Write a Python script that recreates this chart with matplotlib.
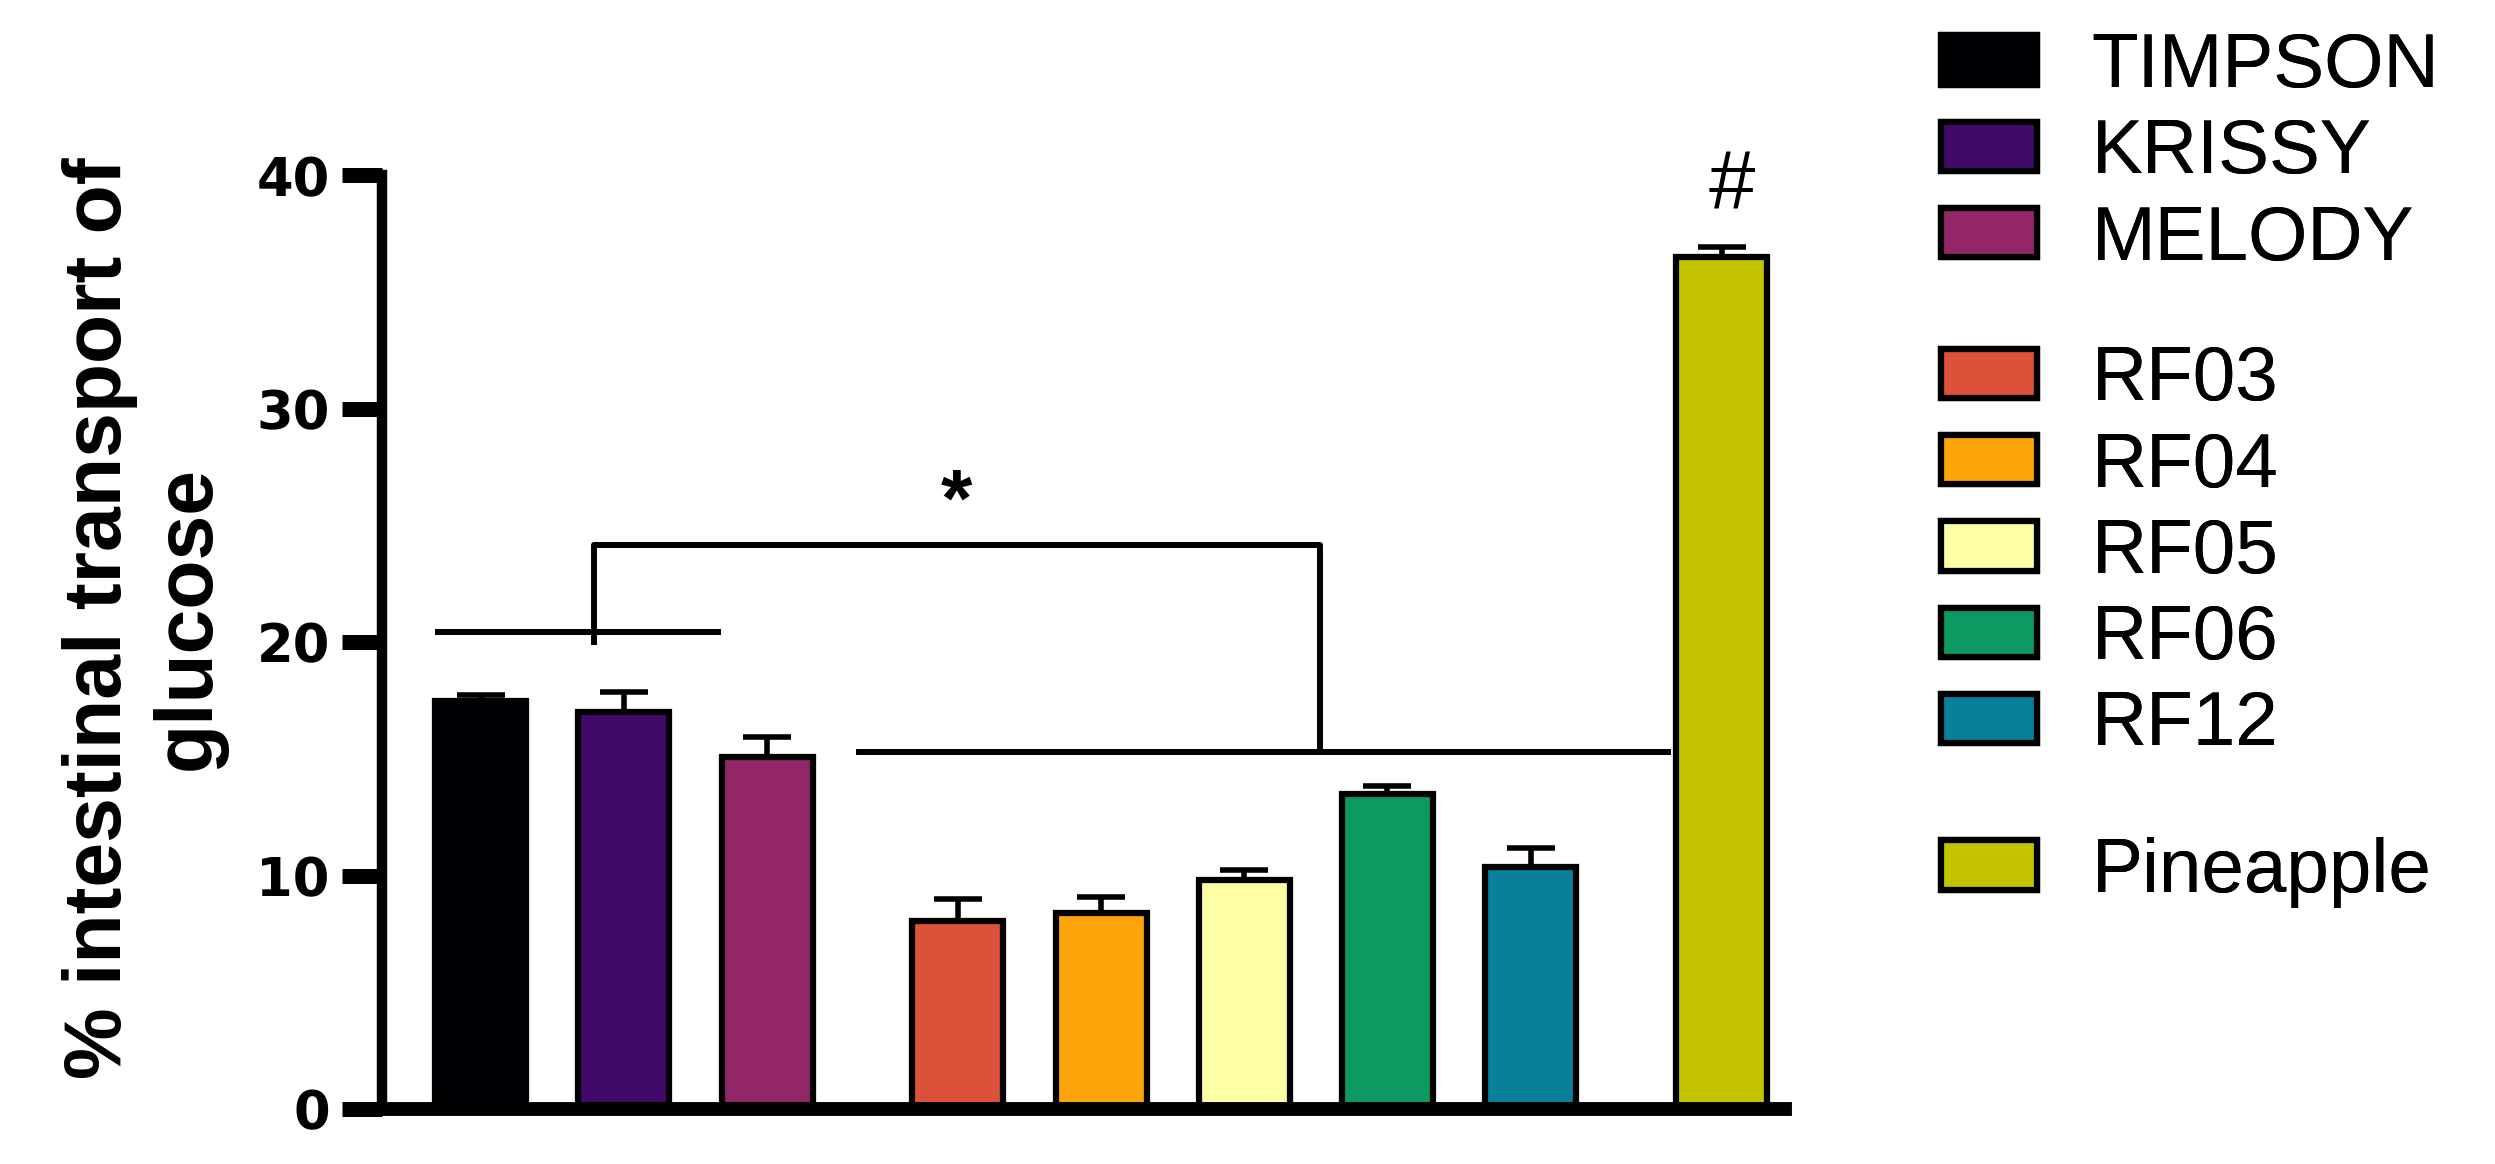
import matplotlib
matplotlib.use('Agg')
import matplotlib.pyplot as plt
from matplotlib.patches import Patch
import numpy as np

plt.rcParams['font.family'] = ['Liberation Sans', 'DejaVu Sans']

# data
groups = ['TIMPSON', 'KRISSY', 'MELODY',
          'RF03', 'RF04', 'RF05', 'RF06', 'RF12',
          'Pineapple']
means = [17.5, 17.0, 15.1, 8.05, 8.4, 9.8, 13.5, 10.35, 36.5]
sems = [0.25, 0.85, 0.85, 0.95, 0.7, 0.45, 0.35, 0.85, 0.45]
colors = ['#000004', '#420a68', '#932667',
          '#dd513a', '#fca50a', '#fcffa4', '#0c9a62', '#08809a',
          '#c3c300']
xpos = [0, 1, 2, 3.333, 4.333, 5.333, 6.333, 7.333, 8.667]
yticks = [0, 10, 20, 30, 40]

fig = plt.figure(figsize=(24.95, 11.64), dpi=100)
ax = fig.add_axes([0.15311, 0.04725, 0.56232, 0.80198])

ax.bar(xpos, means, width=0.636, color=colors, edgecolor='black',
       linewidth=4.5, zorder=2)
ax.errorbar(xpos, means, yerr=[np.zeros(len(sems)), sems], fmt='none',
            ecolor='black', elinewidth=4, capsize=17, capthick=4, zorder=1)

ax.set_xlim(-0.69, 9.11)
ax.set_ylim(0, 40)
ax.set_yticks(yticks)
ax.set_xticks([])
for s in ['top', 'right']:
    ax.spines[s].set_visible(False)
ax.spines['left'].set_linewidth(7.5)
ax.spines['bottom'].set_linewidth(10)
ax.tick_params(axis='y', length=29, width=10.8, pad=8.6)
for lab in ax.get_yticklabels():
    lab.set_fontfamily('DejaVu Sans')
    lab.set_fontweight('bold')
    lab.set_fontsize(38)

ax.set_ylabel('% intestinal transport of\nglucose', fontsize=58,
              fontweight='bold', multialignment='center')
ax.yaxis.set_label_coords(-0.111, 0.526)

# significance marks
lw = 4.3
ax.plot([-0.30, 1.66], [20.43, 20.43], color='black', lw=lw, clip_on=False)
ax.plot([0.79, 0.79, 5.86, 5.86], [20.02, 24.16, 24.16, 15.3],
        color='black', lw=lw, clip_on=False)
ax.plot([2.64, 8.29], [15.3, 15.3], color='black', lw=lw, clip_on=False)
ax.text(3.32, 25.9, '*', fontsize=58, fontweight='bold',
        ha='center', va='center')
ax.text(8.74, 39.5, '#', fontsize=60, ha='center', va='center')

# legend in three blocks
blocks = [range(0, 3), range(3, 8), range(8, 9)]
tops = [0.9725, 0.7033, 0.281]
for idx, top in zip(blocks, tops):
    handles = [Patch(facecolor=colors[i], edgecolor='black', linewidth=4.5)
               for i in idx]
    leg = fig.legend(handles, [groups[i] for i in idx], loc='upper left',
                     bbox_to_anchor=(0.778, top), frameon=False, fontsize=55,
                     handlelength=1.25, handleheight=0.62, handletextpad=0.72,
                     labelspacing=0.2, borderpad=0, borderaxespad=0)
    fig.add_artist(leg)

fig.savefig('out.png', dpi=100)
